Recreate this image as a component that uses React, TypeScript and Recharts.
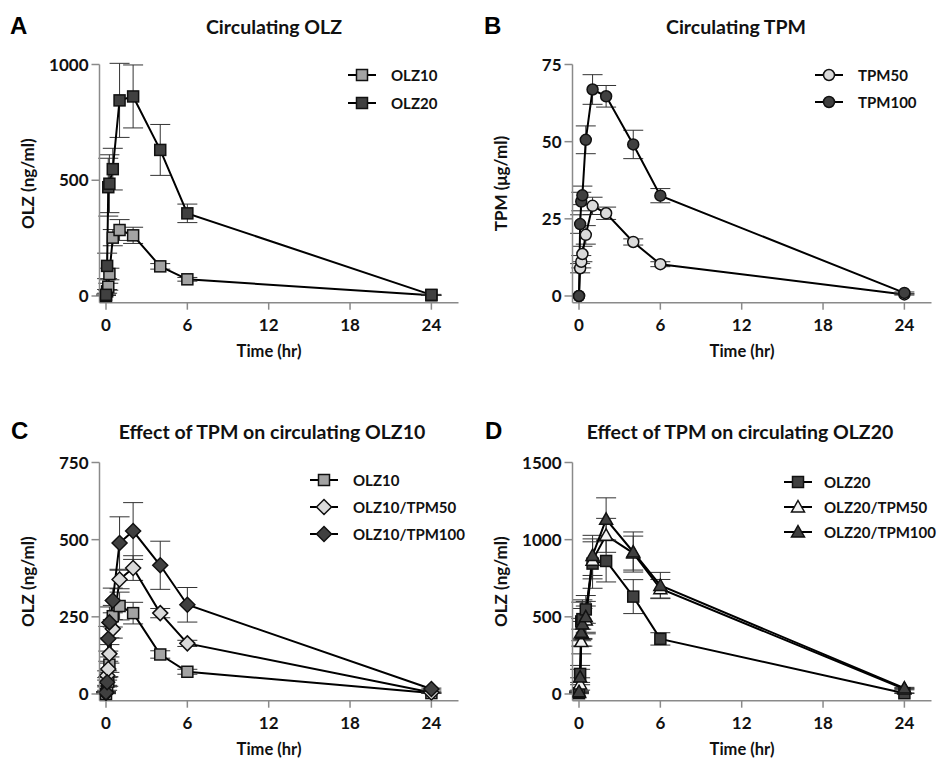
import React from 'react';
import { LineChart, Line, XAxis, YAxis, ErrorBar, Legend } from 'recharts';

// sampling times (hr)
const times = [0, 0.083, 0.167, 0.25, 0.5, 1, 2, 4, 6, 24];
const timeTicks = [0, 6, 12, 18, 24];

// OLZ (ng/ml)
const olz10 = [0, 20, 40, 95, 252, 285, 262, 128, 72, 3];
const olz10Err = [0, 8, 15, 25, 35, 45, 35, 12, 8, 1];
const olz20 = [5, 130, 470, 485, 548, 845, 862, 631, 357, 5];
const olz20Err = [3, 55, 125, 125, 90, 160, 136, 110, 40, 2];

// TPM (ug/ml)
const tpm50 = [0, 9, 11.1, 13.6, 19.8, 29.2, 26.8, 17.5, 10.3, 0.5];
const tpm50Err = [0, 1.5, 2, 2.5, 3, 2.8, 2, 1, 0.8, 0.2];
const tpm100 = [0, 23.3, 30.6, 32.6, 50.6, 66.9, 64.7, 49.1, 32.5, 1.0];
const tpm100Err = [0, 3, 3, 3, 4.5, 4.8, 3.5, 4.6, 2.3, 0.3];

// OLZ with TPM co-dosing (ng/ml)
const olz10Tpm50 = [3, 60, 81, 130, 211, 371, 408, 262, 164, 5];
const olz10Tpm50Err = [2, 15, 25, 30, 30, 30, 40, 15, 10, 2];
const olz10Tpm100 = [5, 38, 179, 232, 303, 489, 528, 417, 289, 16];
const olz10Tpm100Err = [3, 15, 40, 50, 40, 85, 92, 78, 56, 3];
const olz20Tpm50 = [10, 65, 340, 390, 480, 866, 1028, 913, 682, 32];
const olz20Tpm50Err = [5, 40, 80, 80, 90, 120, 110, 110, 60, 5];
const olz20Tpm100 = [15, 110, 400, 454, 500, 898, 1132, 920, 703, 38];
const olz20Tpm100Err = [5, 50, 90, 100, 100, 130, 139, 130, 85, 5];

const FONT = 'Lato, "Open Sans", sans-serif';
const DARK = '#404040';

type Shape = 'square' | 'circle' | 'diamond' | 'triangle';

interface SeriesDef {
  key: string;
  name: string;
  shape: Shape;
  fill: string;
  values: number[];
  errors: number[];
}

const Marker = ({ cx, cy, shape, fill }: { cx?: number; cy?: number; shape: Shape; fill: string }) => {
  if (cx == null || cy == null) return null;
  const common = { fill, stroke: '#111', strokeWidth: 1.5 };
  if (shape === 'circle') return <circle cx={cx} cy={cy} r={5.5} {...common} />;
  if (shape === 'diamond')
    return <polygon points={`${cx},${cy - 7.5} ${cx + 7.5},${cy} ${cx},${cy + 7.5} ${cx - 7.5},${cy}`} {...common} />;
  if (shape === 'triangle')
    return <polygon points={`${cx},${cy - 6.5} ${cx + 6.5},${cy + 5} ${cx - 6.5},${cy + 5}`} {...common} />;
  return <rect x={cx - 5.5} y={cy - 5.5} width={11} height={11} {...common} />;
};

const LegendBox = ({ series, rowHeight, gap }: { series: SeriesDef[]; rowHeight: number; gap: number }) => (
  <div style={{ fontFamily: FONT, fontWeight: 700, fontSize: 15, color: '#111', whiteSpace: 'nowrap' }}>
    {series.map((s) => (
      <div key={s.key} style={{ display: 'flex', alignItems: 'center', height: rowHeight }}>
        <svg width={28} height={16} style={{ overflow: 'visible' }}>
          <line x1={0} y1={8} x2={28} y2={8} stroke="#000" strokeWidth={2} />
          <Marker cx={14} cy={8} shape={s.shape} fill={s.fill} />
        </svg>
        <span style={{ marginLeft: gap }}>{s.name}</span>
      </div>
    ))}
  </div>
);

interface PanelProps {
  left: number;
  top: number;
  series: SeriesDef[];
  yMax: number;
  yTicks: number[];
  yLabel: string;
  legendLeft: number;
  legendTop: number;
  rowHeight: number;
  legendGap?: number;
}

const tickStyle = { fill: '#111', fontSize: 17, fontWeight: 700, fontFamily: FONT };
const axisStroke = { stroke: '#8a8a8a', strokeWidth: 1.5 };

const Panel = ({ left, top, series, yMax, yTicks, yLabel, legendLeft, legendTop, rowHeight, legendGap = 15 }: PanelProps) => {
  const rows = times.map((t, i) => {
    const r: Record<string, number> = { t };
    series.forEach((s) => {
      r[s.key] = s.values[i];
      r[s.key + 'Err'] = s.errors[i];
    });
    return r;
  });
  return (
    <div style={{ position: 'absolute', left, top }}>
      <LineChart width={464} height={380} data={rows} margin={{ top: 64.5, right: 5.5, bottom: 27.3, left: 19.5 }}>
        <XAxis
          type="number"
          dataKey="t"
          domain={[-0.48, 26]}
          ticks={timeTicks}
          allowDataOverflow
          height={50}
          axisLine={axisStroke}
          tickLine={axisStroke}
          tickSize={7}
          tickMargin={9}
          tick={tickStyle}
          label={{
            value: 'Time (hr)',
            position: 'insideBottom',
            offset: -4,
            dx: -10,
            style: { fill: '#111', fontSize: 16.5, fontWeight: 700, fontFamily: FONT },
          }}
        />
        <YAxis
          type="number"
          width={80}
          domain={[-yMax * 0.029, yMax]}
          ticks={yTicks}
          allowDataOverflow
          axisLine={axisStroke}
          tickLine={axisStroke}
          tickSize={8}
          tickMargin={3}
          tick={tickStyle}
          label={{
            value: yLabel,
            angle: -90,
            position: 'insideLeft',
            offset: 8,
            style: { textAnchor: 'middle', fill: '#111', fontSize: 17, fontWeight: 700, fontFamily: FONT },
          }}
        />
        {series.map((s) => (
          <Line
            key={s.key}
            dataKey={s.key}
            name={s.name}
            stroke="#000"
            strokeWidth={2}
            isAnimationActive={false}
            activeDot={false}
            dot={(p: any) => <Marker key={`${s.key}-${p.index}`} cx={p.cx} cy={p.cy} shape={s.shape} fill={s.fill} />}
          >
            <ErrorBar dataKey={s.key + 'Err'} direction="y" width={10} stroke="#333" strokeWidth={1} />
          </Line>
        ))}
        <Legend
          layout="vertical"
          align="center"
          verticalAlign="middle"
          wrapperStyle={{ left: legendLeft, top: legendTop, width: 'auto' }}
          content={() => <LegendBox series={series} rowHeight={rowHeight} gap={legendGap} />}
        />
      </LineChart>
    </div>
  );
};

const Title = ({ x, y, text }: { x: number; y: number; text: string }) => (
  <div
    style={{
      position: 'absolute',
      left: x - 200,
      top: y - 13,
      width: 400,
      textAlign: 'center',
      fontFamily: FONT,
      fontWeight: 700,
      fontSize: 19.5,
      lineHeight: '26px',
      color: '#111',
    }}
  >
    {text}
  </div>
);

const Letter = ({ x, y, text }: { x: number; y: number; text: string }) => (
  <div
    style={{
      position: 'absolute',
      left: x,
      top: y,
      fontFamily: '"Liberation Sans", Arial, sans-serif',
      fontWeight: 700,
      fontSize: 24,
      lineHeight: '28px',
      color: '#000',
    }}
  >
    {text}
  </div>
);

const seriesA: SeriesDef[] = [
  { key: 'olz10', name: 'OLZ10', shape: 'square', fill: '#a3a3a3', values: olz10, errors: olz10Err },
  { key: 'olz20', name: 'OLZ20', shape: 'square', fill: DARK, values: olz20, errors: olz20Err },
];
const seriesB: SeriesDef[] = [
  { key: 'tpm50', name: 'TPM50', shape: 'circle', fill: '#dadada', values: tpm50, errors: tpm50Err },
  { key: 'tpm100', name: 'TPM100', shape: 'circle', fill: DARK, values: tpm100, errors: tpm100Err },
];
const seriesC: SeriesDef[] = [
  { key: 'olz10', name: 'OLZ10', shape: 'square', fill: '#a3a3a3', values: olz10, errors: olz10Err },
  { key: 'olz10Tpm50', name: 'OLZ10/TPM50', shape: 'diamond', fill: '#dadada', values: olz10Tpm50, errors: olz10Tpm50Err },
  { key: 'olz10Tpm100', name: 'OLZ10/TPM100', shape: 'diamond', fill: DARK, values: olz10Tpm100, errors: olz10Tpm100Err },
];
const seriesD: SeriesDef[] = [
  { key: 'olz20', name: 'OLZ20', shape: 'square', fill: DARK, values: olz20, errors: olz20Err },
  { key: 'olz20Tpm50', name: 'OLZ20/TPM50', shape: 'triangle', fill: '#f2f2f2', values: olz20Tpm50, errors: olz20Tpm50Err },
  { key: 'olz20Tpm100', name: 'OLZ20/TPM100', shape: 'triangle', fill: DARK, values: olz20Tpm100, errors: olz20Tpm100Err },
];

export default function App() {
  return (
    <div style={{ position: 'absolute', left: 0, top: 0, width: 937, height: 760, background: '#fff', overflow: 'hidden' }}>
      <Letter x={10} y={12} text="A" />
      <Letter x={484} y={12} text="B" />
      <Letter x={11} y={417} text="C" />
      <Letter x={485} y={417} text="D" />
      <Title x={274} y={27} text="Circulating OLZ" />
      <Title x={736} y={27} text="Circulating TPM" />
      <Title x={272} y={432} text="Effect of TPM on circulating OLZ10" />
      <Title x={740} y={432} text="Effect of TPM on circulating OLZ20" />
      <Panel left={0} top={0} series={seriesA} yMax={1000} yTicks={[0, 500, 1000]} yLabel="OLZ (ng/ml)" legendLeft={348} legendTop={61} rowHeight={28} />
      <Panel left={473} top={0} series={seriesB} yMax={75} yTicks={[0, 25, 50, 75]} yLabel="TPM (μg/ml)" legendLeft={342} legendTop={61} rowHeight={27} />
      <Panel left={0} top={398} series={seriesC} yMax={750} yTicks={[0, 250, 500, 750]} yLabel="OLZ (ng/ml)" legendLeft={310} legendTop={68} rowHeight={27} />
      <Panel left={473} top={398} series={seriesD} yMax={1500} yTicks={[0, 500, 1000, 1500]} yLabel="OLZ (ng/ml)" legendLeft={311} legendTop={71} rowHeight={25} legendGap={12} />
    </div>
  );
}
